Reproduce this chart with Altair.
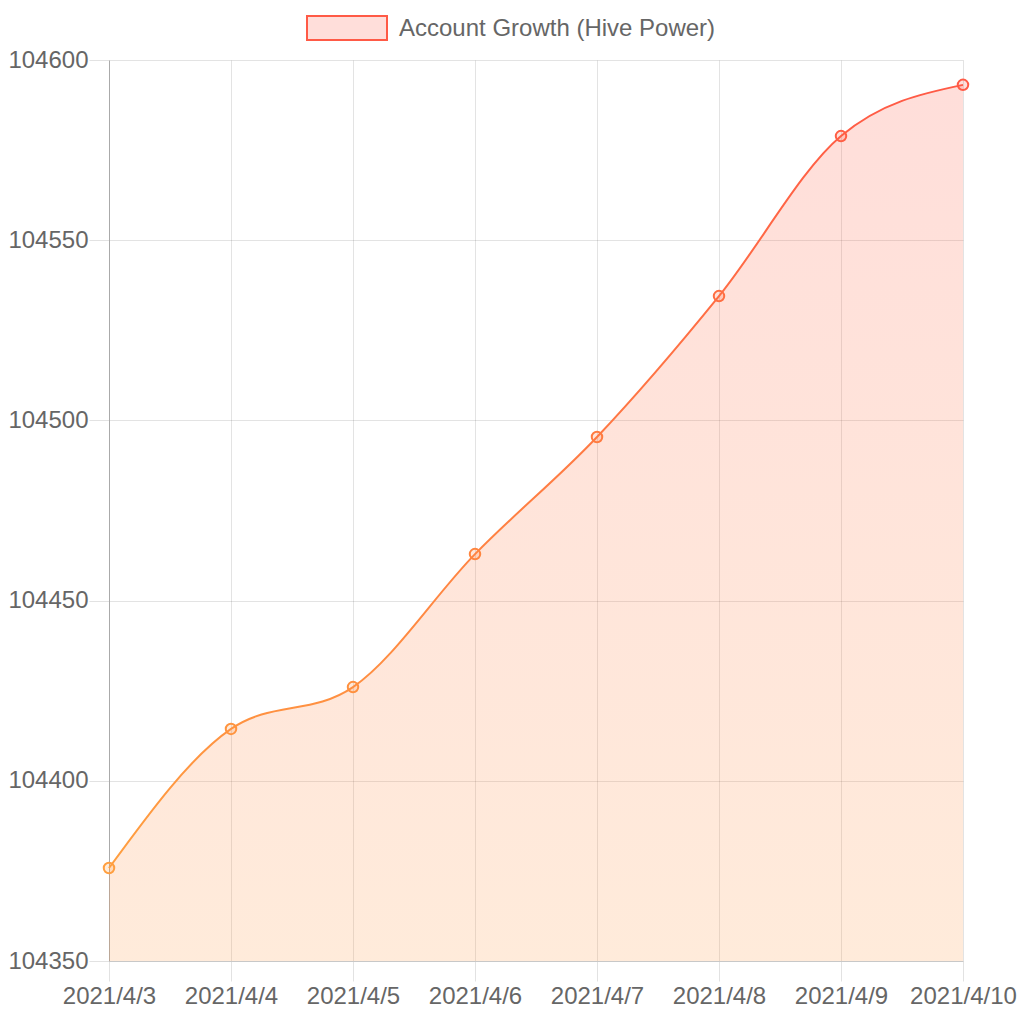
import altair as alt
import pandas as pd

dates = ["2021/4/3", "2021/4/4", "2021/4/5", "2021/4/6",
         "2021/4/7", "2021/4/8", "2021/4/9", "2021/4/10"]
hive_power = [104375.8, 104414.4, 104426.0, 104462.9,
              104495.4, 104534.5, 104578.9, 104593.1]
y_ticks = [104350, 104400, 104450, 104500, 104550, 104600]
series_name = ["Account Growth (Hive Power)"]

df = pd.DataFrame({"date": dates, "value": hive_power})
legend_df = pd.DataFrame({"label": series_name})

RED = "#ff5a46"
ORANGE = "#ff9f40"
FONT = "Liberation Sans"
LABEL_COLOR = "#666666"
FS = 24

def vgrad(top, bottom):
    return alt.Gradient(
        gradient="linear",
        stops=[alt.GradientStop(color=top, offset=0),
               alt.GradientStop(color=bottom, offset=1)],
        x1=0, x2=0, y1=0, y2=1,
    )

x_enc = alt.X(
    "date:O", sort=dates,
    scale=alt.Scale(type="point", padding=0),
    axis=alt.Axis(title=None, labelAngle=0, grid=True, gridColor="black",
                  gridOpacity=0.11, domainColor="#c8c8c8", tickColor="#e2e2e2",
                  tickSize=20, labelPadding=3, labelFontSize=FS,
                  labelColor=LABEL_COLOR, labelFont=FONT, labelOverlap=False),
)
y_enc = alt.Y(
    "value:Q",
    scale=alt.Scale(domain=[104350, 104600], nice=False, zero=False),
    axis=alt.Axis(title=None, values=y_ticks, format="d", grid=True,
                  gridColor="black", gridOpacity=0.11, domainColor="#aaaaaa",
                  tickColor="#e2e2e2", tickSize=20, labelPadding=1,
                  labelFontSize=FS, labelColor=LABEL_COLOR, labelFont=FONT),
)

base = alt.Chart(df)

area = base.mark_area(
    interpolate="monotone", fill=vgrad("#ff5a46", "#ff9b48"), fillOpacity=0.2
).encode(x=x_enc, y=y_enc, y2=alt.datum(104350))

line = base.mark_line(
    interpolate="monotone", stroke=vgrad(RED, ORANGE), strokeWidth=2
).encode(x=x_enc, y=y_enc)

color_scale = alt.Scale(domain=[min(hive_power), max(hive_power)],
                        range=[ORANGE, RED])
points = base.mark_point(
    filled=False, size=110, strokeWidth=2, fillOpacity=0.2, shape="circle"
).encode(
    x=x_enc, y=y_enc,
    stroke=alt.Stroke("value:Q", scale=color_scale, legend=None),
    fill=alt.Fill("value:Q", scale=color_scale, legend=None),
)

legend_box = alt.Chart(legend_df).mark_rect(
    fill="#ffdeda", stroke=RED, strokeWidth=2
).encode(x=alt.value(198), x2=alt.value(278), y=alt.value(-44), y2=alt.value(-20))

legend_text = alt.Chart(legend_df).mark_text(
    align="left", baseline="middle", font=FONT, fontSize=FS, color=LABEL_COLOR
).encode(x=alt.value(290), y=alt.value(-31), text="label:N")

chart = alt.layer(area, line, points, legend_box, legend_text).properties(
    width=854, height=901,
    autosize=alt.AutoSizeParams(type="none"),
    padding={"left": 109, "top": 60, "right": 67, "bottom": 55},
    background="white",
).configure_view(stroke=None).resolve_scale(stroke="independent", fill="independent")

chart.save("out.html", embed_options={"renderer": "svg", "actions": False})
